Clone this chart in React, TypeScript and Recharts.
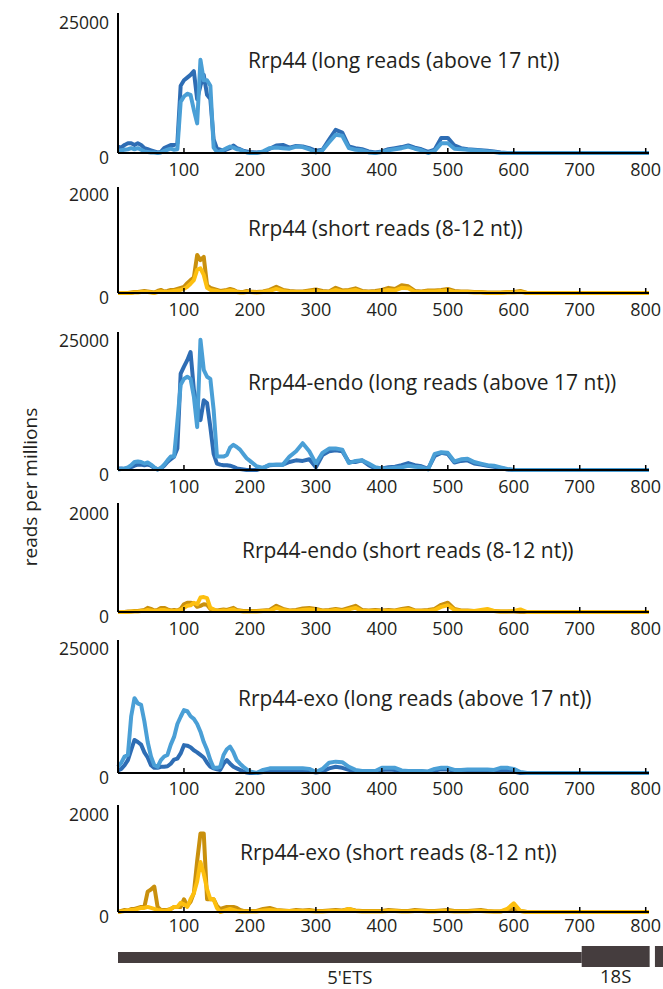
import { LineChart, Line, XAxis, YAxis, ReferenceArea } from 'recharts';

// nucleotide positions along the pre-rRNA (5 nt steps up to 200, then 10 nt)
const positions = [
  0, 5, 10, 15, 20, 25, 30, 35, 40, 45,
  50, 55, 60, 65, 70, 75, 80, 85, 90, 95,
  100, 105, 110, 115, 120, 125, 130, 135, 140, 145,
  150, 155, 160, 165, 170, 175, 180, 185, 190, 195,
  200,
  210, 220, 230, 240, 250, 260, 270, 280, 290, 300,
  310, 320, 330, 340, 350, 360, 370, 380, 390, 400,
  410, 420, 430, 440, 450, 460, 470, 480, 490, 500,
  510, 520, 530, 540, 550, 560, 570, 580, 590, 600,
  610, 620, 700, 805,
];

// Rrp44, long reads
const wtLongDark = [
  1200, 1000, 1500, 1800, 1800, 1500, 1800, 1500, 900, 700,
  500, 300, 100, 200, 900, 1200, 1500, 1500, 1800, 12500,
  13500, 14000, 14500, 15200, 10000, 12500, 14500, 10800, 10000, 2500,
  800, 600, 400, 700, 900, 1400, 900, 700, 400, 300,
  200,
  100, 200, 800, 1400, 1500, 1000, 1300, 1200, 900, 400,
  600, 2500, 4300, 3800, 1200, 900, 700, 300, 100, 300,
  700, 900, 1100, 1400, 1000, 700, 200, 600, 2800, 2800,
  1400, 900, 700, 600, 500, 400, 300, 100, 0, 0,
  0, 0, 0, 0,
];
const wtLongLight = [
  400, 500, 600, 700, 900, 700, 900, 600, 300, 200,
  100, 100, 0, 100, 400, 600, 800, 600, 700, 9500,
  10500, 11000, 10800, 8000, 5500, 17300, 13500, 13500, 12500, 1000,
  200, 300, 600, 900, 1200, 1000, 700, 600, 300, 100,
  0,
  0, 300, 900, 1000, 900, 800, 1200, 1100, 700, 100,
  500, 2000, 3400, 3200, 900, 600, 500, 100, 0, 200,
  500, 700, 900, 1200, 800, 500, 0, 400, 1800, 1800,
  800, 700, 600, 500, 400, 300, 200, 0, 0, 0,
  0, 0, 0, 0,
];

// Rrp44, short reads
const wtShortDark = [
  0, 0, 0, 0, 10, 20, 20, 30, 40, 30,
  20, 10, 40, 60, 30, 40, 60, 60, 80, 100,
  120, 190, 250, 300, 740, 640, 700, 150, 100, 80,
  60, 40, 50, 60, 80, 60, 30, 20, 20, 40,
  30,
  20, 30, 60, 120, 60, 40, 30, 30, 50, 70,
  40, 30, 100, 50, 60, 90, 40, 30, 40, 60,
  100, 80, 150, 130, 40, 30, 50, 50, 60, 80,
  40, 30, 30, 20, 20, 10, 10, 10, 20, 20,
  40, 0, 0, 0,
];
const wtShortLight = [
  0, 0, 0, 0, 0, 10, 10, 20, 20, 20,
  10, 0, 20, 30, 20, 20, 30, 40, 50, 60,
  80, 120, 180, 250, 450, 480, 350, 100, 60, 50,
  40, 20, 30, 40, 50, 40, 20, 10, 10, 20,
  20,
  10, 20, 40, 80, 40, 20, 20, 20, 30, 40,
  20, 20, 60, 30, 40, 60, 20, 20, 20, 40,
  60, 50, 100, 90, 20, 20, 30, 30, 40, 50,
  20, 20, 20, 10, 10, 0, 0, 0, 10, 10,
  20, 0, 0, 0,
];

// Rrp44-endo, long reads
const endoLongDark = [
  300, 300, 200, 300, 500, 800, 1000, 1000, 900, 1000,
  800, 400, 100, 300, 800, 1500, 2000, 2500, 4000, 18000,
  19300, 20500, 22000, 15000, 12000, 9300, 13000, 12500, 8000, 3000,
  1200, 1000, 900, 900, 800, 600, 300, 200, 100, 0,
  0,
  0, 400, 900, 1000, 1000, 1500, 1800, 1700, 2000, 500,
  2800, 3500, 3700, 3500, 1500, 1500, 1800, 900, 300, 300,
  500, 600, 900, 1300, 900, 700, 200, 2600, 3200, 3000,
  1400, 1700, 1800, 1200, 1000, 800, 600, 400, 100, 0,
  0, 0, 0, 0,
];
const endoLongLight = [
  100, 200, 300, 500, 900, 1500, 1600, 1500, 1200, 1400,
  1000, 500, 100, 400, 1000, 1800, 2500, 2500, 9000, 15900,
  17000, 17400, 17000, 13700, 8000, 24300, 18700, 17400, 17000, 11200,
  2500, 2500, 2500, 2800, 4200, 4700, 4300, 3800, 3000, 2200,
  1700,
  700, 400, 1000, 1000, 1000, 2500, 3500, 5000, 3500, 1200,
  3200, 4000, 4000, 3800, 1300, 1700, 1800, 1200, 500, 300,
  300, 400, 500, 800, 600, 500, 100, 3000, 3300, 3200,
  1600, 2000, 2100, 1500, 1200, 900, 800, 500, 200, 0,
  0, 0, 0, 0,
];

// Rrp44-endo, short reads
const endoShortDark = [
  0, 0, 0, 10, 10, 20, 20, 30, 40, 80,
  60, 30, 40, 80, 80, 50, 30, 40, 30, 60,
  150, 180, 180, 170, 100, 120, 150, 140, 60, 40,
  30, 40, 50, 40, 60, 80, 40, 30, 20, 20,
  20,
  20, 30, 40, 120, 60, 30, 40, 70, 80, 60,
  30, 40, 60, 40, 80, 120, 40, 30, 40, 30,
  40, 30, 60, 80, 30, 30, 40, 60, 140, 180,
  60, 30, 30, 20, 20, 30, 20, 10, 10, 10,
  0, 0, 0, 0,
];
const endoShortLight = [
  0, 0, 0, 0, 10, 10, 10, 20, 20, 40,
  30, 20, 20, 40, 40, 30, 20, 20, 20, 40,
  80, 120, 130, 180, 150, 280, 290, 270, 80, 50,
  20, 20, 30, 20, 40, 50, 20, 20, 10, 10,
  10,
  10, 20, 20, 80, 40, 20, 20, 40, 50, 40,
  20, 20, 40, 20, 50, 80, 20, 20, 20, 20,
  20, 20, 40, 50, 20, 20, 20, 40, 100, 130,
  40, 20, 20, 20, 40, 60, 20, 10, 10, 20,
  50, 0, 0, 0,
];

// Rrp44-exo, long reads
const exoLongDark = [
  500, 800, 1500, 2500, 4500, 6400, 6000, 5500, 4000, 3000,
  1500, 1000, 1000, 1200, 1200, 1300, 1800, 2600, 2800, 3800,
  5400, 5300, 5000, 4400, 4000, 3500, 3000, 2000, 1200, 900,
  700, 600, 1800, 2500, 1800, 1200, 900, 600, 300, 100,
  0,
  0, 200, 400, 500, 500, 500, 500, 500, 400, 100,
  300, 900, 1200, 1000, 600, 300, 300, 300, 300, 600,
  700, 600, 300, 300, 300, 300, 200, 500, 700, 700,
  400, 300, 400, 400, 400, 300, 300, 500, 500, 300,
  0, 0, 0, 0,
];
const exoLongLight = [
  1200, 2000, 3200, 3500, 11000, 14500, 13500, 13200, 10000, 6000,
  3200, 1500, 1200, 2500, 3200, 3500, 5500, 7000, 9500, 10900,
  12200, 12000, 11000, 10500, 9500, 8000, 6000, 4500, 2500, 1000,
  1000, 1200, 3500, 4600, 5100, 4000, 2500, 1800, 1200, 700,
  300,
  0, 600, 900, 900, 900, 900, 900, 900, 800, 200,
  800, 2000, 2200, 2100, 1200, 600, 400, 400, 400, 1000,
  1000, 1000, 500, 400, 400, 400, 300, 800, 1000, 1000,
  600, 600, 700, 700, 700, 700, 600, 1000, 1000, 800,
  200, 0, 0, 0,
];

// Rrp44-exo, short reads
const exoShortDark = [
  0, 20, 40, 30, 60, 60, 80, 100, 100, 400,
  440, 500, 100, 40, 40, 40, 60, 100, 100, 100,
  250, 120, 200, 370, 1000, 1540, 1540, 250, 250, 250,
  120, 60, 80, 100, 100, 100, 80, 40, 20, 20,
  20,
  20, 60, 80, 40, 30, 20, 40, 30, 40, 20,
  20, 30, 40, 30, 60, 30, 20, 20, 20, 20,
  40, 30, 20, 20, 40, 30, 20, 20, 30, 40,
  20, 20, 20, 30, 40, 20, 10, 10, 40, 60,
  20, 0, 0, 0,
];
const exoShortLight = [
  0, 10, 20, 30, 40, 40, 60, 80, 80, 100,
  80, 60, 40, 30, 20, 30, 60, 100, 100, 180,
  150, 100, 250, 370, 600, 980, 750, 450, 250, 250,
  80, 0, 20, 40, 60, 40, 20, 10, 10, 10,
  10,
  10, 30, 40, 30, 20, 20, 20, 20, 20, 10,
  10, 20, 20, 20, 60, 20, 10, 10, 10, 10,
  20, 20, 10, 10, 20, 20, 10, 10, 20, 20,
  10, 10, 10, 20, 20, 10, 10, 10, 60, 170,
  20, 0, 0, 0,
];

const panelTitles = [
  'Rrp44 (long reads (above 17 nt))',
  'Rrp44 (short reads (8-12 nt))',
  'Rrp44-endo (long reads (above 17 nt))',
  'Rrp44-endo (short reads (8-12 nt))',
  'Rrp44-exo (long reads (above 17 nt))',
  'Rrp44-exo (short reads (8-12 nt))',
];
const panelMaxTicks = [25000, 2000, 25000, 2000, 25000, 2000];
const panelSeries = [
  [wtLongDark, wtLongLight],
  [wtShortDark, wtShortLight],
  [endoLongDark, endoLongLight],
  [endoShortDark, endoShortLight],
  [exoLongDark, exoLongLight],
  [exoShortDark, exoShortLight],
];
const xTicks = [100, 200, 300, 400, 500, 600, 700, 800];

const geneRegions = [
  { name: "5'ETS", start: 0, end: 703, mature: false },
  { name: '18S', start: 703, end: 806, mature: true },
  { name: '', start: 814, end: 850, mature: true },
];

// layout (pixels) for each panel
const layout = [
  { top: 13, zero: 153, max: 26000, titleX: 248, titleY: 60, labelDy: 16 },
  { top: 187, zero: 293, max: 2060, titleX: 248, titleY: 228, labelDy: 16 },
  { top: 332, zero: 470, max: 25750, titleX: 248, titleY: 382, labelDy: 16 },
  { top: 503, zero: 612, max: 2117, titleX: 242, titleY: 550, labelDy: 16 },
  { top: 640, zero: 773, max: 25775, titleX: 238, titleY: 698, labelDy: 15 },
  { top: 805, zero: 912, max: 2098, titleX: 240, titleY: 852, labelDy: 13 },
];

const longColors = ['#2e6db4', '#4a9fd6'];
const shortColors = ['#c9900d', '#fdbf0f'];
const ink = '#231f20';
const font = '"Open Sans", Lato, sans-serif';

function XTick(props: any) {
  const { x, y, payload, labelDy } = props;
  return (
    <g>
      <line x1={x} x2={x} y1={y} y2={y - 5} stroke="#000" strokeWidth={1.5} />
      <text x={x} y={y + labelDy} textAnchor="middle" dominantBaseline="central" fontFamily={font} fontSize={18} fill={ink}>
        {payload.value}
      </text>
    </g>
  );
}

function YTick(props: any) {
  const { x, y, payload } = props;
  return (
    <text x={x - 9} y={y + 4} textAnchor="end" dominantBaseline="central" fontFamily={font} fontSize={17.5} fill={ink}>
      {payload.value}
    </text>
  );
}

function GeneLabel(props: any) {
  const { viewBox, value, mature } = props;
  if (!value || !viewBox) return null;
  return (
    <text
      x={viewBox.x + viewBox.width / 2}
      y={mature ? 45 : 46}
      textAnchor="middle"
      dominantBaseline="central"
      fontFamily={font}
      fontSize={18.5}
      fill={ink}
    >
      {value}
    </text>
  );
}

function Panel({ idx }: { idx: number }) {
  const lay = layout[idx];
  const [darkVals, lightVals] = panelSeries[idx];
  const colors = idx % 2 === 0 ? longColors : shortColors;
  const rows = positions.map((x, i) => ({ x, dark: darkVals[i], light: lightVals[i] }));
  const h = lay.zero - lay.top;
  return (
    <div style={{ position: 'absolute', left: 0, top: lay.top - 6 }}>
      <LineChart width={663} height={h + 46} data={rows} margin={{ top: 6, right: 14, bottom: 0, left: 0 }}>
        <XAxis
          type="number"
          dataKey="x"
          domain={[0, 805]}
          ticks={xTicks}
          interval={0}
          tickSize={0}
          tickMargin={0}
          tickLine={false}
          axisLine={{ stroke: '#000', strokeWidth: 2 }}
          height={40}
          tick={(p: any) => <XTick {...p} labelDy={lay.labelDy} />}
        />
        <YAxis
          type="number"
          domain={[0, lay.max]}
          ticks={[0, panelMaxTicks[idx]]}
          interval={0}
          width={118}
          tickSize={0}
          tickMargin={0}
          tickLine={false}
          axisLine={{ stroke: '#000', strokeWidth: 2 }}
          tick={(p: any) => <YTick {...p} />}
        />
        <Line type="linear" dataKey="dark" stroke={colors[0]} strokeWidth={4} dot={false} strokeLinejoin="round" isAnimationActive={false} />
        <Line type="linear" dataKey="light" stroke={colors[1]} strokeWidth={4} dot={false} strokeLinejoin="round" isAnimationActive={false} />
      </LineChart>
      <div
        style={{
          position: 'absolute',
          left: lay.titleX,
          top: lay.titleY - lay.top + 6 - 14,
          fontFamily: font,
          fontSize: 21,
          lineHeight: '28px',
          color: ink,
          whiteSpace: 'nowrap',
        }}
      >
        {panelTitles[idx]}
      </div>
    </div>
  );
}

function GeneMap() {
  const rows = positions.map((x) => ({ x, y: 0 }));
  return (
    <div style={{ position: 'absolute', left: 0, top: 930 }}>
      <LineChart width={663} height={59} data={rows} margin={{ top: 16, right: 14, bottom: 22, left: 118 }}>
        <XAxis type="number" dataKey="x" domain={[0, 805]} height={0} tick={false} axisLine={false} tickLine={false} />
        <YAxis type="number" domain={[0, 1]} width={0} tick={false} axisLine={false} tickLine={false} />
        <Line dataKey="y" stroke="none" dot={false} isAnimationActive={false} />
        {geneRegions.map((r) => (
          <ReferenceArea
            key={r.start}
            x1={r.start}
            x2={r.end}
            y1={r.mature ? 0 : 0.19}
            y2={r.mature ? 1 : 0.71}
            fill="#453d3e"
            fillOpacity={1}
            stroke="none"
            ifOverflow="visible"
            label={{ value: r.name, content: (p: any) => <GeneLabel {...p} value={r.name} mature={r.mature} /> }}
          />
        ))}
      </LineChart>
    </div>
  );
}

export default function App() {
  return (
    <div style={{ position: 'absolute', left: 0, top: 0, width: 663, height: 989, background: '#fff', overflow: 'hidden' }}>
      {panelTitles.map((_, i) => (
        <Panel key={i} idx={i} />
      ))}
      <GeneMap />
      <div
        style={{
          position: 'absolute',
          left: 30 - 100,
          top: 487 - 12,
          width: 200,
          height: 24,
          lineHeight: '24px',
          textAlign: 'center',
          transform: 'rotate(-90deg)',
          fontFamily: font,
          fontSize: 19,
          color: ink,
        }}
      >
        reads per millions
      </div>
    </div>
  );
}
